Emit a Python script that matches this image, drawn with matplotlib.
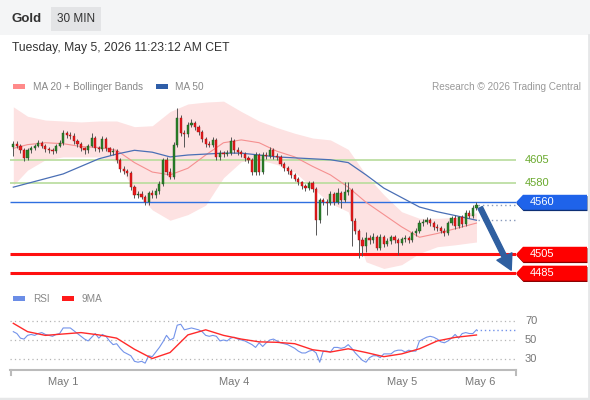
import matplotlib
matplotlib.use('Agg')
import matplotlib.pyplot as plt
import matplotlib.transforms as mtransforms
from matplotlib.patches import Rectangle, Polygon, FancyArrowPatch
from matplotlib.lines import Line2D

plt.rcParams['font.family'] = ['Liberation Sans', 'DejaVu Sans']

# ---- 30 min candles, Gold ----
first_open = 4618
closes = [4622, 4620, 4615, 4607, 4615, 4617, 4620, 4623, 4620, 4616,
          4615, 4614, 4620, 4623, 4633, 4631, 4630, 4625, 4622, 4617,
          4615, 4620, 4628, 4617, 4616, 4627, 4617, 4613, 4614, 4605,
          4595, 4593, 4591, 4576, 4568, 4569, 4566, 4560, 4570, 4568,
          4572, 4579, 4605, 4592, 4587, 4621, 4649, 4633, 4632, 4642,
          4644, 4640, 4634, 4627, 4622, 4621, 4626, 4608, 4612, 4611,
          4612, 4625, 4615, 4613, 4611, 4607, 4605, 4592, 4610, 4592,
          4610, 4609, 4615, 4609, 4608, 4601, 4596, 4593, 4589, 4585,
          4581, 4577, 4575, 4580, 4574, 4541, 4562, 4560, 4559, 4569,
          4560, 4570, 4562, 4571, 4573, 4540, 4530, 4520, 4514, 4522,
          4520, 4523, 4512, 4523, 4516, 4519, 4523, 4520, 4517, 4521,
          4522, 4520, 4527, 4530, 4538, 4539, 4541, 4538, 4534, 4533,
          4530, 4527, 4538, 4543, 4535, 4544, 4537, 4549, 4545, 4554,
          4557]
highs = [4625, 4625, 4622, 4617, 4617, 4620, 4622, 4626, 4625, 4622,
         4619, 4617, 4622, 4626, 4636, 4635, 4634, 4633, 4627, 4624,
         4619, 4622, 4633, 4630, 4620, 4630, 4629, 4619, 4617, 4616,
         4607, 4598, 4595, 4593, 4578, 4572, 4572, 4568, 4572, 4573,
         4575, 4582, 4607, 4608, 4596, 4624, 4660, 4652, 4636, 4645,
         4648, 4646, 4642, 4636, 4629, 4625, 4629, 4628, 4615, 4614,
         4615, 4629, 4627, 4618, 4615, 4613, 4609, 4607, 4613, 4612,
         4613, 4613, 4618, 4617, 4612, 4610, 4603, 4598, 4595, 4591,
         4587, 4583, 4579, 4583, 4583, 4576, 4565, 4565, 4563, 4572,
         4571, 4575, 4572, 4581, 4581, 4575, 4543, 4532, 4523, 4529,
         4525, 4527, 4525, 4526, 4525, 4522, 4525, 4525, 4522, 4523,
         4525, 4524, 4530, 4533, 4541, 4542, 4544, 4543, 4540, 4537,
         4535, 4533, 4540, 4546, 4547, 4546, 4547, 4552, 4552, 4557,
         4560]
lows = [4609, 4617, 4612, 4604, 4605, 4612, 4615, 4618, 4617, 4613,
        4612, 4611, 4612, 4618, 4621, 4628, 4627, 4622, 4619, 4614,
        4611, 4612, 4618, 4614, 4613, 4614, 4614, 4610, 4610, 4602,
        4592, 4590, 4588, 4573, 4565, 4565, 4563, 4557, 4557, 4565,
        4565, 4569, 4577, 4589, 4585, 4585, 4618, 4630, 4618, 4629,
        4640, 4637, 4631, 4624, 4619, 4618, 4619, 4605, 4605, 4608,
        4609, 4610, 4612, 4610, 4608, 4604, 4602, 4589, 4589, 4589,
        4590, 4606, 4607, 4606, 4605, 4598, 4593, 4590, 4586, 4582,
        4578, 4574, 4572, 4573, 4571, 4525, 4538, 4557, 4547, 4557,
        4557, 4558, 4554, 4560, 4568, 4514, 4526, 4501, 4503, 4507,
        4516, 4517, 4509, 4510, 4513, 4514, 4516, 4517, 4504, 4515,
        4518, 4517, 4518, 4524, 4528, 4535, 4537, 4535, 4531, 4530,
        4527, 4524, 4525, 4536, 4532, 4533, 4534, 4535, 4543, 4543,
        4552]
opens = [first_open] + closes[:-1]

# indicators, read every 5 candles
band_idx = [0, 4, 9, 14, 19, 24, 29, 34, 39, 44, 49, 54, 59, 64, 69, 74, 79,
            84, 89, 94, 99, 104, 109, 114, 119, 124, 130]
bb_upper = [4661, 4651, 4647, 4646, 4645, 4646, 4646, 4640, 4641, 4656, 4664,
            4666, 4667, 4656, 4646, 4639, 4633, 4628, 4626, 4616, 4589, 4568,
            4550, 4543, 4543, 4544, 4549]
bb_lower = [4578, 4594, 4605, 4608, 4608, 4608, 4603, 4573, 4552, 4541, 4547,
            4557, 4586, 4603, 4605, 4600, 4592, 4575, 4559, 4550, 4497, 4490,
            4494, 4506, 4513, 4515, 4518]
ma20 = [4617, 4621, 4623, 4622, 4619, 4618, 4615, 4602, 4592, 4589, 4596,
        4610, 4623, 4626, 4623, 4614, 4608, 4598, 4589, 4576, 4560, 4547,
        4534, 4523, 4527, 4532, 4538]
ma50 = [4576, 4580, 4585, 4590, 4598, 4606, 4611, 4615, 4613, 4608, 4610,
        4611, 4612, 4612, 4610, 4608, 4607, 4606, 4605, 4602, 4589, 4575,
        4565, 4555, 4550, 4546, 4541]

rsi = [59, 57, 52, 51, 55, 56, 55, 57, 58, 56,
       55, 54, 56, 57, 63, 63, 63, 60, 57, 54,
       51, 49, 53, 57, 52, 56, 54, 49, 45, 46,
       41, 37, 35, 33, 27, 26, 27, 25, 33, 32,
       37, 42, 48, 55, 50, 52, 66, 67, 61, 62,
       63, 62, 61, 59, 55, 54, 55, 54, 49, 50,
       49, 52, 53, 51, 50, 49, 47, 45, 42, 47,
       43, 47, 50, 51, 49, 47, 46, 45, 43, 41,
       38, 36, 36, 38, 39, 36, 26, 38, 38, 37,
       42, 42, 41, 42, 45, 41, 36, 32, 28, 26,
       31, 33, 33, 31, 35, 35, 35, 38, 39, 39,
       37, 39, 38, 38, 49, 51, 53, 54, 53, 51,
       48, 47, 49, 52, 56, 52, 57, 58, 57, 57,
       61]
rsi_ma9 = [68, 59, 55, 56.5, 58, 55.5, 52, 40, 30, 36.5, 55.5, 61, 55, 51, 48,
           47.5, 46, 39.5, 37, 40.5, 36.5, 32, 35, 40.5, 49, 52.8, 55.4]

resistances = [4605, 4580]
pivot = 4560
supports = [4505, 4485]
rsi_levels = [70, 50, 30]
date_ticks = [14, 62, 109, 131]
date_labels = ['May 1', 'May 4', 'May 5', 'May 6']

W, H = 590, 400


def fx(px):
    return px / W


def fy(py):
    return 1 - py / H


fig = plt.figure(figsize=(W / 100, H / 100), dpi=100)
fig.patch.set_facecolor('white')

# header band + right/bottom border
fig.add_artist(Rectangle((0, fy(35)), 1, 35 / H, transform=fig.transFigure,
                         facecolor='#f4f5f6', edgecolor='none', zorder=0))
fig.add_artist(Line2D([fx(588.5), fx(588.5)], [fy(35), fy(400)], transform=fig.transFigure,
                      color='#e6e7e8', lw=2))
fig.add_artist(Line2D([0, 1], [fy(398.5), fy(398.5)], transform=fig.transFigure,
                      color='#e6e7e8', lw=2.5))
fig.text(fx(12), fy(19), 'Gold', fontsize=9.5, weight='bold', color='#333333', va='center')
fig.add_artist(Rectangle((fx(51), fy(31)), fx(50), 24 / H, transform=fig.transFigure,
                         facecolor='#e3e4e6', edgecolor='none'))
fig.text(fx(76), fy(19), '30 MIN', fontsize=8.5, color='#333333', ha='center', va='center')
fig.text(fx(12), fy(48), 'Tuesday, May 5, 2026 11:23:12 AM CET', fontsize=8.7,
         color='#333333', va='center')

# legends
fig.add_artist(Rectangle((fx(13), fy(89)), fx(12), 5 / H, transform=fig.transFigure,
                         facecolor='#ff8a8a', edgecolor='none'))
fig.text(fx(33), fy(86.5), 'MA 20 + Bollinger Bands', fontsize=7.2, color='#888888', va='center')
fig.add_artist(Rectangle((fx(156), fy(89)), fx(12), 5 / H, transform=fig.transFigure,
                         facecolor='#2f5ea8', edgecolor='none'))
fig.text(fx(175), fy(86.5), 'MA 50', fontsize=7.2, color='#888888', va='center')
fig.text(fx(581), fy(86.5), 'Research © 2026 Trading Central', fontsize=7.2,
         color='#999999', va='center', ha='right')

fig.add_artist(Rectangle((fx(13), fy(301)), fx(12), 5 / H, transform=fig.transFigure,
                         facecolor='#6b8de6', edgecolor='none'))
fig.text(fx(33), fy(299), 'RSI', fontsize=7.2, color='#888888', va='center')
fig.add_artist(Rectangle((fx(62), fy(301)), fx(12), 5 / H, transform=fig.transFigure,
                         facecolor='#ff1a1a', edgecolor='none'))
fig.text(fx(82), fy(299), '9MA', fontsize=7.2, color='#888888', va='center')

# ---- price panel ----
XMIN, XMAX = -0.93, 141.1
PMIN, PMAX = 4472.5, 4673.5
ax = fig.add_axes([fx(10), fy(285), fx(506), 190 / H])
ax.set_xlim(XMIN, XMAX)
ax.set_ylim(PMIN, PMAX)
ax.axis('off')
PX = (PMAX - PMIN) / 190

ax.fill_between(band_idx, bb_lower, bb_upper, color='#fde2e2', lw=0, zorder=1)
ax.hlines(resistances, XMIN, XMAX, colors='#b8dc9c', lw=1.2, zorder=2)
ax.hlines(pivot, XMIN, XMAX, colors='#2f6fe0', lw=1.0, zorder=2)
ax.hlines(supports, XMIN, XMAX, colors='#ff1010', lw=2.2, zorder=2)
ax.plot(band_idx, ma20, color='#f59090', lw=0.8, zorder=3)
ax.plot(band_idx, ma50, color='#4a6fb5', lw=0.9, zorder=3)

xs = list(range(len(closes)))
ax.vlines(xs, lows, highs, colors='#555555', lw=0.7, zorder=4)
bottoms = [min(o, c) for o, c in zip(opens, closes)]
heights = [max(abs(c - o), 0.5) for o, c in zip(opens, closes)]
face = ['#2a842a' if c >= o else '#e8191b' for o, c in zip(opens, closes)]
edge = ['#1b4f1b' if c >= o else '#9c1212' for o, c in zip(opens, closes)]
ax.bar(xs, heights, bottom=bottoms, width=0.62, color=face, edgecolor=edge,
       linewidth=0.3, zorder=5)

# dotted extensions from last candle
ax.plot([xs[-1] + 0.5, XMAX], [closes[-1], closes[-1]], ls=(0, (1, 2.2)),
        color='#8899bb', lw=1, zorder=3)
ax.plot([xs[-1] + 0.5, XMAX], [ma50[-1], ma50[-1]], ls=(0, (1, 2.2)),
        color='#8899bb', lw=1, zorder=3)

# forecast arrow
ax.add_patch(FancyArrowPatch((xs[-1] + 0.7, closes[-1]), (XMAX - 1.0, supports[1] + 0.5),
                             arrowstyle='simple,head_length=1.1,head_width=1.2,tail_width=0.35',
                             mutation_scale=10, color='#2f5fa0', zorder=6, clip_on=False))

tr = mtransforms.blended_transform_factory(fig.transFigure, ax.transData)


def price_tag(price, label, color, shade):
    h = 7.5 * PX
    pts = [(fx(516), price), (fx(523), price + h), (fx(587), price + h),
           (fx(587), price - h), (fx(523), price - h)]
    shadow = [(x + fx(0.5), y - 1.3 * PX) for x, y in pts]
    fig.add_artist(Polygon(shadow, closed=True, transform=tr, facecolor=shade,
                           edgecolor='none', zorder=5))
    fig.add_artist(Polygon(pts, closed=True, transform=tr, facecolor=color,
                           edgecolor='none', zorder=6))
    fig.text(fx(530), price, label, transform=tr, color='white', fontsize=8,
             va='center', zorder=7)


for lv in resistances:
    fig.text(fx(525), lv, str(lv), transform=tr, color='#6aaa2e', fontsize=8, va='center')
price_tag(pivot, str(pivot), '#1f63ea', '#0d2f75')
for lv in supports:
    price_tag(lv, str(lv), '#ff0000', '#8a0000')

# ---- RSI panel ----
RMIN, RMAX = 17.6, 87.8
rax = fig.add_axes([fx(10), fy(370), fx(506), 65 / H])
rax.set_xlim(XMIN, XMAX)
rax.set_ylim(RMIN, RMAX)
for s in ['top', 'left', 'right']:
    rax.spines[s].set_visible(False)
rax.spines['bottom'].set_color('#bbbbbb')
rax.spines['bottom'].set_linewidth(1.5)
rax.set_yticks([])
rax.set_xticks(date_ticks, date_labels)
rax.tick_params(axis='x', length=0, pad=5, labelsize=8, labelcolor='#777777')
rax.patch.set_alpha(0)

rax.hlines(rsi_levels, XMIN, XMAX, colors='#b5b5b5', linestyles=(0, (1, 2.5)), lw=0.9)
rax.plot(xs, rsi, color='#7393ea', lw=0.8)
rax.plot(band_idx, rsi_ma9, color='#ff2a2a', lw=1.0)
rax.plot([xs[-1], XMAX], [rsi[-1], rsi[-1]], color='#7393ea', ls=(0, (1, 2)), lw=1)

etr = mtransforms.blended_transform_factory(rax.transData, rax.transAxes)
for xe in [XMIN + 0.3, XMAX - 0.1]:
    rax.add_line(Line2D([xe, xe], [0, -0.08], transform=etr, color='#bbbbbb',
                        lw=1.5, clip_on=False))

rtr = mtransforms.blended_transform_factory(fig.transFigure, rax.transData)
for lv in rsi_levels:
    fig.text(fx(525), lv, str(lv), transform=rtr, color='#777777', fontsize=8, va='center')

fig.savefig('out.png', dpi=100)
